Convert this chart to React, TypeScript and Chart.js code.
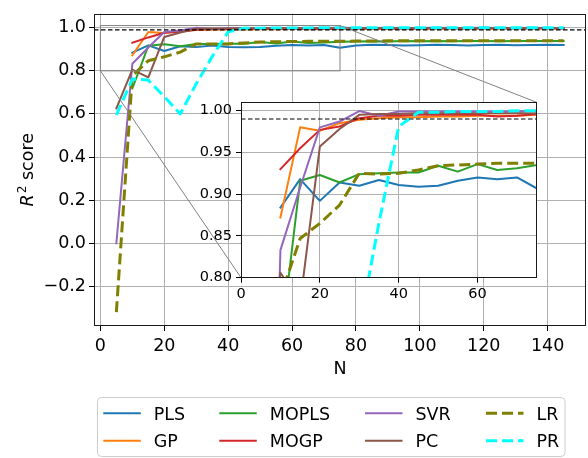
import React, { useEffect, useRef } from 'react';
import { Chart, registerables } from 'chart.js';

Chart.register(...registerables);

const FONT = "'DejaVu Sans', 'Liberation Sans', sans-serif";

// ---------------- data ----------------
const N_VALUES = [5, 10, 15, 20, 25, 30, 35, 40, 45, 50, 55, 60, 65, 70, 75, 80, 85, 90, 95, 100, 105, 110, 115, 120, 125, 130, 135, 140, 145];

const PLS = [null, 0.884, 0.918, 0.892, 0.914, 0.910, 0.917, 0.911, 0.909, 0.910, 0.916, 0.920, 0.918, 0.920, 0.907, 0.918, 0.921, 0.920, 0.917, 0.919, 0.921, 0.920, 0.918, 0.920, 0.921, 0.919, 0.920, 0.921, 0.920];
const GP = [null, 0.872, 0.980, 0.976, 0.985, 0.989, 0.991, 0.992, 0.992, 0.993, 0.993, 0.994, 0.994, 0.994, 0.995, 0.995, 0.995, 0.996, 0.995, 0.996, 0.996, 0.996, 0.996, 0.997, 0.996, 0.997, 0.997, 0.997, 0.997];
const MOPLS = [null, 0.718, 0.916, 0.923, 0.914, 0.924, 0.925, 0.926, 0.926, 0.934, 0.927, 0.936, 0.929, 0.931, 0.935, 0.936, 0.937, 0.936, 0.938, 0.937, 0.938, 0.937, 0.938, 0.938, 0.937, 0.938, 0.938, 0.938, 0.938];
const MOGP = [null, 0.930, 0.955, 0.977, 0.981, 0.991, 0.994, 0.994, 0.995, 0.995, 0.995, 0.995, 0.993, 0.994, 0.996, 0.996, 0.996, 0.996, 0.997, 0.996, 0.997, 0.997, 0.997, 0.997, 0.997, 0.997, 0.997, 0.998, 0.997];
const SVR = [0.0, 0.833, 0.908, 0.980, 0.987, 0.9995, 0.994, 0.999, 0.999, 0.999, 0.999, 0.999, 0.999, 0.999, 1.0, 0.999, 0.999, 1.0, 0.999, 0.999, 1.0, 0.999, 0.999, 1.0, 0.999, 0.999, 1.0, 0.999, 0.999];
const PC = [0.626, 0.806, 0.770, 0.957, 0.978, 0.995, 0.996, 0.996, 0.997, 0.997, 0.997, 0.997, 0.997, 0.997, 0.997, 0.997, 0.997, 0.998, 0.997, 0.998, 0.998, 0.998, 0.998, 0.998, 0.998, 0.998, 0.998, 0.998, 0.998];
const LR = [-0.32, 0.777, 0.847, 0.865, 0.887, 0.925, 0.924, 0.925, 0.929, 0.934, 0.935, 0.936, 0.937, 0.937, 0.937, 0.938, 0.938, 0.939, 0.939, 0.939, 0.939, 0.940, 0.940, 0.940, 0.940, 0.940, 0.940, 0.940, 0.940];
const PR = [0.595, 0.762, 0.757, 0.680, 0.600, 0.740, 0.866, 0.981, 0.998, 0.998, 0.999, 0.999, 0.999, 1.0, 1.0, 1.0, 1.0, 1.0, 1.0, 1.0, 1.0, 1.0, 1.0, 1.0, 1.0, 1.0, 1.0, 1.0, 1.0];

const SERIES_NAMES = ['PLS', 'GP', 'MOPLS', 'MOGP', 'SVR', 'PC', 'LR', 'PR'];
const SERIES_VALUES = [PLS, GP, MOPLS, MOGP, SVR, PC, LR, PR];
const SERIES_COLORS = ['#1f77b4', '#ff7f0e', '#2ca02c', '#d62728', '#9467bd', '#8c564b', '#808000', '#00ffff'];
const SERIES_DASHED = [false, false, false, false, false, false, true, true];

const X_TICKS = [0, 20, 40, 60, 80, 100, 120, 140];
const Y_TICKS = [-0.2, 0.0, 0.2, 0.4, 0.6, 0.8, 1.0];
const INSET_X_TICKS = [0, 20, 40, 60];
const INSET_Y_TICKS = [0.8, 0.85, 0.9, 0.95, 1.0];

const X_RANGE = [-2, 152];
const Y_RANGE = [-0.384, 1.066];
const INSET_X_RANGE = [0, 75];
const INSET_Y_RANGE = [0.8, 1.01];
const THRESHOLD = 0.99;

const X_LABEL = 'N';
const Y_LABEL_VAR = 'R';
const Y_LABEL_SUP = '2';
const Y_LABEL_REST = ' score';

// ---------------- layout (pixels) ----------------
const W = 588;
const H = 458;
const MAIN_AREA = { left: 94, top: 6, right: 586, bottom: 326 };
const INSET_AREA = { left: 241, top: 102.3, right: 536.7, bottom: 277.7 };
const MAIN_FONT = 17.5;
const INSET_FONT = 14.5;
const LEGEND_BOX = { x: 97.5, y: 397.5, w: 467.5, h: 59 };
const LEGEND_COL_X = [103.3, 219.3, 365, 486];
const LEGEND_ROW_Y = [413.2, 440.7];
const LEGEND_HANDLE = 37.5;
const LEGEND_TEXT_GAP = 50.5;

function buildDatasets() {
  return SERIES_NAMES.map((name, i) => ({
    label: name,
    data: N_VALUES.map((n, j) => ({ x: n, y: SERIES_VALUES[i][j] })),
    borderColor: SERIES_COLORS[i],
    backgroundColor: SERIES_COLORS[i],
    borderWidth: SERIES_DASHED[i] ? 3 : 2,
    borderDash: SERIES_DASHED[i] ? [11, 5] : [],
    borderCapStyle: SERIES_DASHED[i] ? 'butt' : 'square',
    borderJoinStyle: 'round',
    pointRadius: 0,
    pointHoverRadius: 0,
    tension: 0,
    fill: false,
    spanGaps: false,
    order: SERIES_NAMES.length - i,
  }));
}

function axisOpts(range: number[], ticks: number[], fmt: (v: number) => string, fontSize: number, fit: (s: any) => void, padding: number) {
  return {
    type: 'linear',
    min: range[0],
    max: range[1],
    afterBuildTicks: (axis: any) => {
      axis.ticks = ticks.map((v) => ({ value: v }));
    },
    afterFit: fit,
    grid: {
      color: '#b0b0b0',
      lineWidth: 1,
      tickColor: '#000',
      tickLength: 5,
      tickWidth: 1,
      drawTicks: true,
    },
    border: { display: false },
    ticks: {
      autoSkip: false,
      maxRotation: 0,
      minRotation: 0,
      padding,
      color: '#000',
      font: { family: FONT, size: fontSize, lineHeight: 1.2 },
      callback: (v: number) => fmt(v),
    },
  };
}

const fmt1 = (v: number) => (v < -1e-9 ? '\u2212' : '') + Math.abs(v).toFixed(1);
const fmt2 = (v: number) => v.toFixed(2);
const fmt0 = (v: number) => String(Math.round(v));

const thresholdPlugin = {
  id: 'threshold',
  afterDatasetsDraw(chart: any) {
    const { ctx, chartArea } = chart;
    const y = chart.scales.y.getPixelForValue(THRESHOLD);
    ctx.save();
    ctx.beginPath();
    ctx.rect(chartArea.left, chartArea.top, chartArea.right - chartArea.left, chartArea.bottom - chartArea.top);
    ctx.clip();
    ctx.strokeStyle = '#000';
    ctx.lineWidth = 1.2;
    ctx.setLineDash([4.5, 2.5]);
    ctx.beginPath();
    ctx.moveTo(chartArea.left, y);
    ctx.lineTo(chartArea.right, y);
    ctx.stroke();
    ctx.restore();
  },
};

const framePlugin = {
  id: 'frame',
  afterDatasetsDraw(chart: any) {
    const { ctx, chartArea } = chart;
    ctx.save();
    ctx.strokeStyle = '#1a1a1a';
    ctx.lineWidth = 1;
    ctx.setLineDash([]);
    const l = Math.round(chartArea.left) + 0.5;
    const t = Math.round(chartArea.top) + 0.5;
    const r = Math.round(chartArea.right) - 0.5;
    const b = Math.round(chartArea.bottom) - 0.5;
    ctx.strokeRect(l, t, r - l, b - t);
    ctx.restore();
  },
};

const indicatorPlugin = {
  id: 'indicator',
  afterDatasetsDraw(chart: any) {
    const { ctx } = chart;
    const xs = chart.scales.x;
    const ys = chart.scales.y;
    const x0 = xs.getPixelForValue(INSET_X_RANGE[0]);
    const x1 = xs.getPixelForValue(INSET_X_RANGE[1]);
    const y0 = ys.getPixelForValue(INSET_Y_RANGE[0]);
    const y1 = ys.getPixelForValue(INSET_Y_RANGE[1]);
    ctx.save();
    ctx.strokeStyle = '#808080';
    ctx.lineWidth = 1;
    ctx.setLineDash([]);
    ctx.strokeRect(x0, y1, x1 - x0, y0 - y1);
    ctx.beginPath();
    ctx.moveTo(x0, y0);
    ctx.lineTo(INSET_AREA.left, INSET_AREA.bottom);
    ctx.moveTo(x1, y1);
    ctx.lineTo(INSET_AREA.right, INSET_AREA.top);
    ctx.stroke();
    ctx.restore();
  },
};

const labelsPlugin = {
  id: 'labels',
  afterDraw(chart: any) {
    const { ctx, chartArea } = chart;
    ctx.save();
    ctx.fillStyle = '#000';
    ctx.font = `${MAIN_FONT}px ${FONT}`;
    ctx.textAlign = 'center';
    ctx.textBaseline = 'alphabetic';
    ctx.fillText(X_LABEL, (chartArea.left + chartArea.right) / 2, 373.5);

    // y label, rotated
    ctx.translate(33, (chartArea.top + chartArea.bottom) / 2);
    ctx.rotate(-Math.PI / 2);
    ctx.textAlign = 'left';
    const italic = `italic ${MAIN_FONT}px ${FONT}`;
    const sup = `${MAIN_FONT * 0.7}px ${FONT}`;
    const reg = `${MAIN_FONT}px ${FONT}`;
    ctx.font = italic;
    const wR = ctx.measureText(Y_LABEL_VAR).width;
    ctx.font = sup;
    const w2 = ctx.measureText(Y_LABEL_SUP).width;
    ctx.font = reg;
    const wS = ctx.measureText(Y_LABEL_REST).width;
    let x = -(wR + w2 + 1 + wS) / 2;
    ctx.font = italic;
    ctx.fillText(Y_LABEL_VAR, x, 0);
    x += wR + 1;
    ctx.font = sup;
    ctx.fillText(Y_LABEL_SUP, x, -MAIN_FONT * 0.42);
    x += w2;
    ctx.font = reg;
    ctx.fillText(Y_LABEL_REST, x, 0);
    ctx.restore();
  },
};

const legendPlugin = {
  id: 'legendBox',
  afterDraw(chart: any) {
    const { ctx } = chart;
    const b = LEGEND_BOX;
    ctx.save();
    ctx.beginPath();
    const r = 4;
    ctx.moveTo(b.x + r, b.y);
    ctx.lineTo(b.x + b.w - r, b.y);
    ctx.arcTo(b.x + b.w, b.y, b.x + b.w, b.y + r, r);
    ctx.lineTo(b.x + b.w, b.y + b.h - r);
    ctx.arcTo(b.x + b.w, b.y + b.h, b.x + b.w - r, b.y + b.h, r);
    ctx.lineTo(b.x + r, b.y + b.h);
    ctx.arcTo(b.x, b.y + b.h, b.x, b.y + b.h - r, r);
    ctx.lineTo(b.x, b.y + r);
    ctx.arcTo(b.x, b.y, b.x + r, b.y, r);
    ctx.closePath();
    ctx.fillStyle = 'rgba(255,255,255,0.8)';
    ctx.fill();
    ctx.strokeStyle = '#cccccc';
    ctx.lineWidth = 1;
    ctx.stroke();

    SERIES_NAMES.forEach((name, i) => {
      const col = Math.floor(i / 2);
      const row = i % 2;
      const x = LEGEND_COL_X[col];
      const y = LEGEND_ROW_Y[row];
      ctx.beginPath();
      ctx.strokeStyle = SERIES_COLORS[i];
      ctx.lineWidth = SERIES_DASHED[i] ? 3 : 2;
      ctx.setLineDash(SERIES_DASHED[i] ? [11, 5] : []);
      ctx.lineCap = 'butt';
      ctx.moveTo(x, y);
      ctx.lineTo(x + LEGEND_HANDLE, y);
      ctx.stroke();
      ctx.setLineDash([]);
      ctx.fillStyle = '#000';
      ctx.font = `${MAIN_FONT}px ${FONT}`;
      ctx.textAlign = 'left';
      ctx.textBaseline = 'alphabetic';
      ctx.fillText(name, x + LEGEND_TEXT_GAP, y + 6.5);
    });
    ctx.restore();
  },
};

const whiteAreaPlugin = {
  id: 'whiteArea',
  beforeDraw(chart: any) {
    const { ctx, chartArea } = chart;
    ctx.save();
    ctx.fillStyle = '#ffffff';
    ctx.fillRect(chartArea.left, chartArea.top, chartArea.right - chartArea.left, chartArea.bottom - chartArea.top);
    ctx.restore();
  },
};

function mainConfig(): any {
  return {
    type: 'line',
    data: { datasets: buildDatasets() },
    options: {
      responsive: false,
      maintainAspectRatio: false,
      animation: false,
      events: [],
      layout: { padding: { left: 0, top: MAIN_AREA.top, right: W - MAIN_AREA.right, bottom: 0 } },
      plugins: { legend: { display: false }, tooltip: { enabled: false } },
      scales: {
        x: axisOpts(X_RANGE, X_TICKS, fmt0, MAIN_FONT, (s: any) => { s.height = H - MAIN_AREA.bottom; }, 4.5),
        y: axisOpts(Y_RANGE, Y_TICKS, fmt1, MAIN_FONT, (s: any) => { s.width = MAIN_AREA.left; }, 3),
      },
    },
    plugins: [indicatorPlugin, thresholdPlugin, framePlugin, labelsPlugin, legendPlugin],
  };
}

function insetConfig(): any {
  return {
    type: 'line',
    data: { datasets: buildDatasets() },
    options: {
      responsive: false,
      maintainAspectRatio: false,
      animation: false,
      events: [],
      layout: { padding: { left: 0, top: INSET_AREA.top, right: W - INSET_AREA.right, bottom: 0 } },
      plugins: { legend: { display: false }, tooltip: { enabled: false } },
      scales: {
        x: axisOpts(INSET_X_RANGE, INSET_X_TICKS, fmt0, INSET_FONT, (s: any) => { s.height = H - INSET_AREA.bottom; }, 3),
        y: axisOpts(INSET_Y_RANGE, INSET_Y_TICKS, fmt2, INSET_FONT, (s: any) => { s.width = INSET_AREA.left; }, 4),
      },
    },
    plugins: [whiteAreaPlugin, thresholdPlugin, framePlugin],
  };
}

export default function App() {
  const mainRef = useRef<HTMLCanvasElement>(null);
  const insetRef = useRef<HTMLCanvasElement>(null);

  useEffect(() => {
    document.body.style.margin = '0';
    const main = new Chart(mainRef.current as HTMLCanvasElement, mainConfig());
    const inset = new Chart(insetRef.current as HTMLCanvasElement, insetConfig());
    return () => {
      main.destroy();
      inset.destroy();
    };
  }, []);

  return (
    <div style={{ position: 'relative', width: W, height: H, background: '#fff' }}>
      <canvas ref={mainRef} width={W} height={H} style={{ position: 'absolute', left: 0, top: 0 }} />
      <canvas ref={insetRef} width={W} height={H} style={{ position: 'absolute', left: 0, top: 0 }} />
    </div>
  );
}
